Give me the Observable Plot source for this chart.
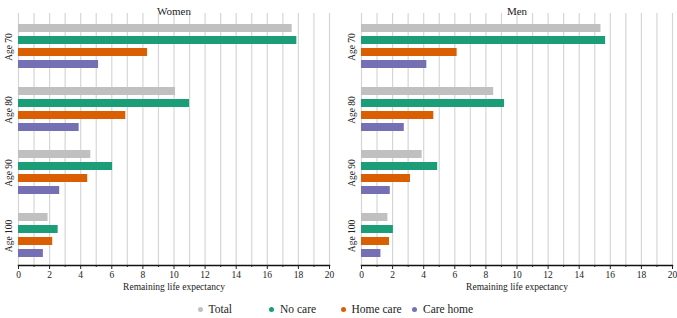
<!DOCTYPE html>
<html>
<head>
<meta charset="utf-8">
<script src="https://cdn.jsdelivr.net/npm/d3@7"></script>
<script src="https://cdn.jsdelivr.net/npm/@observablehq/plot@0.6"></script>
<style>
  body { margin: 0; background: #fff; font-family: "Liberation Serif", "Times New Roman", serif; }
  #wrap { width: 677px; height: 318px; overflow: hidden; }
  #legend { display: flex; justify-content: center; height: 18px; line-height: 18px; font-size: 11.5px; color: #222; }
  #legend .item { width: 71.5px; display: flex; align-items: center; }
  #legend .dot { width: 5px; height: 5px; border-radius: 50%; margin-left: 2px; margin-right: 6px; }
</style>
</head>
<body>
<div id="wrap">
  <div id="chart"></div>
  <div id="legend"></div>
</div>
<script>
const sexes = ["Women", "Men"];
const ages = ["Age 70", "Age 80", "Age 90", "Age 100"];
const series = ["Total", "No care", "Home care", "Care home"];
const colors = ["#c0c0c0", "#1b9e77", "#d95f02", "#7570b3"];

const womenTotal    = [17.6, 10.1, 4.65, 1.9];
const womenNoCare   = [17.9, 11.0, 6.05, 2.55];
const womenHomeCare = [8.3, 6.9, 4.45, 2.2];
const womenCareHome = [5.15, 3.9, 2.65, 1.6];

const menTotal    = [15.4, 8.5, 3.9, 1.7];
const menNoCare   = [15.7, 9.2, 4.9, 2.05];
const menHomeCare = [6.15, 4.65, 3.15, 1.8];
const menCareHome = [4.2, 2.75, 1.85, 1.25];

const gridValues = [0,1,2,3,4,5,6,7,8,9,10,11,12,13,14,15,16,17,18,19,20];
const majorTicks = [0,2,4,6,8,10,12,14,16,18,20];
const minorTicks = [1,3,5,7,9,11,13,15,17,19];
const xLabel = "Remaining life expectancy";

const valuesBySex = {
  Women: [womenTotal, womenNoCare, womenHomeCare, womenCareHome],
  Men: [menTotal, menNoCare, menHomeCare, menCareHome]
};

const rows = [];
for (const sex of sexes) {
  series.forEach((s, si) => {
    ages.forEach((age, ai) => {
      rows.push({sex, age, series: s, value: valuesBySex[sex][si][ai]});
    });
  });
}
const cells = [];
for (const sex of sexes) for (const age of ages) cells.push({sex, age});
const topCells = sexes.map(sex => ({sex, age: ages[0]}));
const bottomCells = sexes.map(sex => ({sex, age: ages[ages.length - 1]}));

const chart = Plot.plot({
  width: 677,
  height: 300,
  marginLeft: 17,
  marginRight: 4,
  marginTop: 12,
  marginBottom: 34,
  style: {fontFamily: "Liberation Serif, Times New Roman, serif", fontSize: "9.5px", color: "#222", background: "#fff"},
  fx: {domain: sexes, paddingInner: 0.093, paddingOuter: 0, axis: null},
  fy: {domain: ages, paddingInner: 0, paddingOuter: 0, axis: null},
  x: {domain: [0, 20], axis: null},
  y: {domain: series, paddingInner: 0.33, paddingOuter: 0.69, align: 0.6, axis: null},
  color: {domain: series, range: colors},
  marks: [
    Plot.ruleX(gridValues, {x: d => d, stroke: "#d6d6d6", strokeWidth: 1.2}),
    Plot.barX(rows, {fx: "sex", fy: "age", y: "series", x: "value", fill: "series"}),
    Plot.frame({anchor: "bottom", fy: [ages[ages.length - 1]], stroke: "#111", strokeWidth: 1.5}),
    Plot.axisX({ticks: majorTicks, tickSize: 4, tickPadding: 2, label: null, fontSize: 9.5}),
    Plot.axisX({ticks: minorTicks, tickSize: 2, tickFormat: () => "", label: null}),
    Plot.text(topCells, {fx: "sex", fy: "age", text: "sex", frameAnchor: "top", dy: -6, fontSize: 11}),
    Plot.text(cells, {fx: "sex", fy: "age", text: "age", frameAnchor: "left", textAnchor: "middle", dx: -10, dy: 2, rotate: -90, fontSize: 9.5}),
    Plot.text(bottomCells, {fx: "sex", fy: "age", text: () => xLabel, frameAnchor: "bottom", dy: 24, fontSize: 9.5})
  ]
});
document.getElementById("chart").appendChild(chart);

const legend = document.getElementById("legend");
series.forEach((s, i) => {
  const item = document.createElement("div");
  item.className = "item";
  const dot = document.createElement("span");
  dot.className = "dot";
  dot.style.background = colors[i];
  const label = document.createElement("span");
  label.textContent = s;
  item.appendChild(dot);
  item.appendChild(label);
  legend.appendChild(item);
});
</script>
</body>
</html>
